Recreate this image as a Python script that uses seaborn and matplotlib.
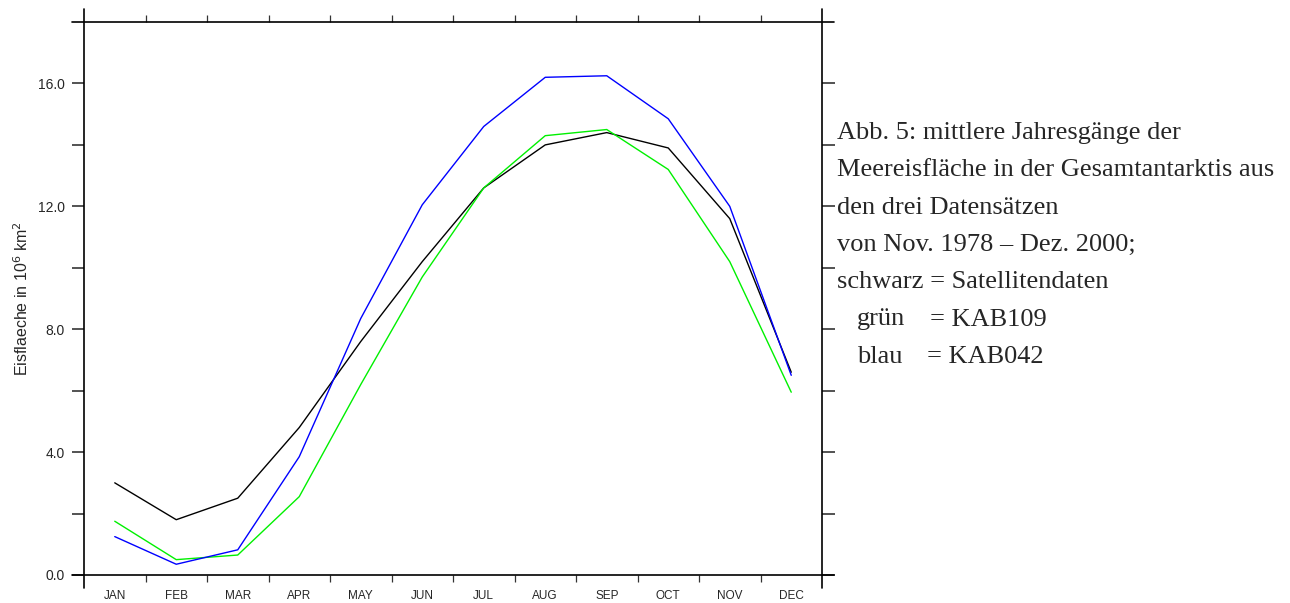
import numpy as np
import pandas as pd
import seaborn as sns
import matplotlib.pyplot as plt
from matplotlib.ticker import FixedLocator

# Monatsnamen und mittlere Jahresgänge (10^6 km^2)
months = ['JAN', 'FEB', 'MAR', 'APR', 'MAY', 'JUN', 'JUL', 'AUG', 'SEP', 'OCT', 'NOV', 'DEC']
satellit = [3.0, 1.8, 2.5, 4.8, 7.6, 10.2, 12.6, 14.0, 14.4, 13.9, 11.6, 6.6]
kab109 = [1.75, 0.5, 0.65, 2.55, 6.2, 9.7, 12.6, 14.3, 14.5, 13.2, 10.2, 5.95]
kab042 = [1.25, 0.35, 0.82, 3.85, 8.35, 12.05, 14.6, 16.2, 16.25, 14.85, 12.0, 6.5]

series = {'Satellitendaten': satellit, 'KAB109': kab109, 'KAB042': kab042}
colors = {'Satellitendaten': '#000000', 'KAB109': '#00f000', 'KAB042': '#0000ff'}

df = pd.DataFrame([(k, i, v) for k, vals in series.items() for i, v in enumerate(vals)],
                  columns=['Datensatz', 'Monat', 'Eisflaeche'])

sns.set_style('white')
plt.rcParams['font.family'] = ['Liberation Sans', 'DejaVu Sans']

fig = plt.figure(figsize=(12.9, 6.03), dpi=100)
ax = fig.add_axes([84 / 1290, 1 - 575 / 603, 738 / 1290, 553 / 603])

sns.lineplot(data=df, x='Monat', y='Eisflaeche', hue='Datensatz', palette=colors,
             linewidth=1.0, legend=False, ax=ax)

ax.set_xlim(-0.5, 11.5)
ax.set_ylim(0, 18)
ax.set_xlabel('')

# x-Achse: Beschriftung in Monatsmitte, Striche an Monatsgrenzen
ax.set_xticks(range(12))
ax.set_xticklabels(months, fontsize=8.5)
ax.xaxis.set_minor_locator(FixedLocator(np.arange(0.5, 11, 1)))
ax.tick_params(axis='x', which='major', length=0, pad=11)
ax.tick_params(axis='x', which='minor', length=5, width=0.9, color='#333333',
               direction='out', top=True, bottom=True)

# y-Achse
ax.set_yticks([0, 4, 8, 12, 16])
ax.set_yticklabels(['0.0', '4.0', '8.0', '12.0', '16.0'], fontsize=10)
ax.yaxis.set_minor_locator(FixedLocator([2, 6, 10, 14]))
ax.tick_params(axis='y', which='both', length=9, width=1.3, color='#444444',
               direction='out', left=True, right=True, pad=5)
ax.set_ylabel('Eisflaeche in 10$^6$ km$^2$', fontsize=11.5, labelpad=5)

for s in ax.spines.values():
    s.set_visible(False)

# Rahmenlinien, die über die Ecken hinausragen
ex, ey = 12 / 738, 13 / 553
kw = dict(transform=ax.transAxes, clip_on=False, color='black', linewidth=1.2)
ax.plot([0, 0], [-ey, 1 + ey], **kw)
ax.plot([1, 1], [-ey, 1 + ey], **kw)
ax.plot([-ex, 1 + ex], [0, 0], **kw)
ax.plot([-ex, 1 + ex], [1, 1], **kw)

# Bildunterschrift rechts
serif = ['Liberation Serif', 'DejaVu Serif']
fs = 19
lines = ['Abb. 5: mittlere Jahresgänge der',
         'Meereisfläche in der Gesamtantarktis aus',
         'den drei Datensätzen',
         'von Nov. 1978 – Dez. 2000;',
         'schwarz = Satellitendaten']
y0, dy = 133, 37.3
for i, t in enumerate(lines):
    fig.text(837 / 1290, 1 - (y0 + i * dy) / 603, t, family=serif, fontsize=fs,
             va='center', ha='left')
fig.text(857 / 1290, 1 - (y0 + 5 * dy) / 603, 'grün', family=serif, fontsize=fs, va='center')
fig.text(930 / 1290, 1 - (y0 + 5 * dy) / 603, '= KAB109', family=serif, fontsize=fs, va='center')
fig.text(857 / 1290, 1 - (y0 + 6 * dy) / 603, 'blau', family=serif, fontsize=fs, va='center')
fig.text(927 / 1290, 1 - (y0 + 6 * dy) / 603, '= KAB042', family=serif, fontsize=fs, va='center')

plt.savefig('out.png', dpi=100)
